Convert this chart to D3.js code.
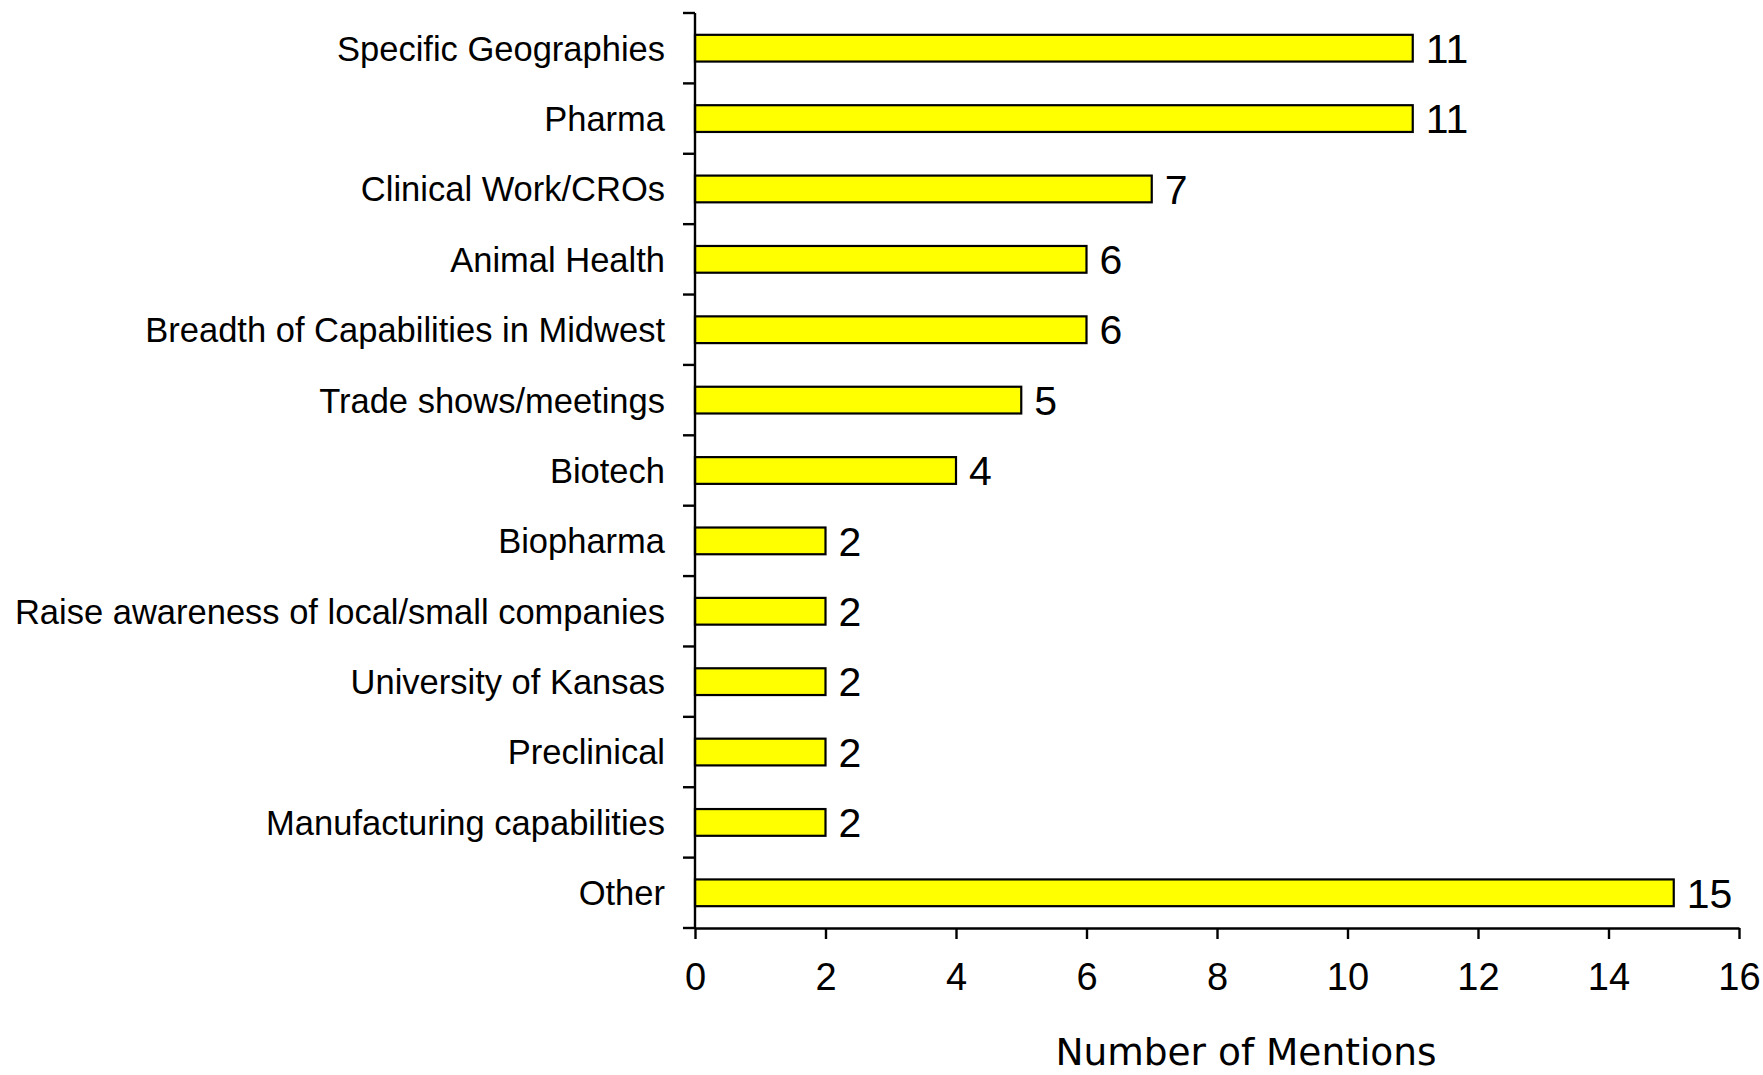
<!DOCTYPE html>
<html><head><meta charset="utf-8">
<script src="https://cdn.jsdelivr.net/npm/d3@7"></script>
<style>html,body{margin:0;padding:0;background:#fff}</style>
</head><body>
<svg id="c" width="1763" height="1075"></svg>
<script>
const categories = ["Specific Geographies","Pharma","Clinical Work/CROs","Animal Health","Breadth of Capabilities in Midwest","Trade shows/meetings","Biotech","Biopharma","Raise awareness of local/small companies","University of Kansas","Preclinical","Manufacturing capabilities","Other"];
const values = [11,11,7,6,6,5,4,2,2,2,2,2,15];
const xTicks = [0,2,4,6,8,10,12,14,16];
const xTitle = "Number of Mentions";

(function(){
const svg = d3.select("#c");
const mL = 695, mR = 1739, mT = 13, mB = 928;
const x = d3.scaleLinear().domain([0,16]).range([mL,mR]);
const y = d3.scaleBand().domain(categories).range([mT,mB]).paddingInner(0.62).paddingOuter(0.31);
const step = (mB-mT)/categories.length;
const fontA = "'Liberation Sans', Arial, sans-serif";

svg.selectAll("rect.bar").data(values).enter().append("rect")
  .attr("x", x(0)).attr("y",(d,i)=>y(categories[i]))
  .attr("width", d=>x(d)-x(0)).attr("height", y.bandwidth())
  .attr("fill","#ffff00").attr("stroke","#000").attr("stroke-width",2.2);

svg.append("line").attr("x1",mL).attr("x2",mL).attr("y1",mT).attr("y2",mB).attr("stroke","#000").attr("stroke-width",2.4);
d3.range(categories.length+1).forEach(i=>{
  const yy = mT + i*step;
  svg.append("line").attr("x1",mL-12).attr("x2",mL).attr("y1",yy).attr("y2",yy).attr("stroke","#000").attr("stroke-width",2.4);
});

const xAxis = svg.append("g").attr("transform",`translate(0,${mB})`)
  .call(d3.axisBottom(x).tickValues(xTicks).tickSize(11).tickPadding(24).tickSizeOuter(0));
xAxis.select(".domain").attr("stroke","#000").attr("stroke-width",2.4);
xAxis.selectAll(".tick line").attr("stroke","#000").attr("stroke-width",2.4);
xAxis.selectAll(".tick text").attr("font-family",fontA).attr("font-size",38).attr("fill","#000");

svg.selectAll("text.cat").data(categories).enter().append("text")
  .attr("x", mL-30).attr("y", d=>y(d)+y.bandwidth()/2)
  .attr("dy","0.36em").attr("text-anchor","end")
  .attr("font-family",fontA).attr("font-size",34.5).attr("fill","#000").text(d=>d);

svg.selectAll("text.val").data(values).enter().append("text")
  .attr("x", d=>x(d)+13).attr("y",(d,i)=>y(categories[i])+y.bandwidth()/2)
  .attr("dy","0.36em").attr("font-family",fontA).attr("font-size",41).attr("fill","#000").text(d=>d);

svg.append("text").attr("x",1246).attr("y",1065).attr("text-anchor","middle")
  .attr("font-family","'DejaVu Sans', Verdana, sans-serif").attr("font-size",37.5).attr("fill","#000").text(xTitle);
})();
</script>
</body></html>
